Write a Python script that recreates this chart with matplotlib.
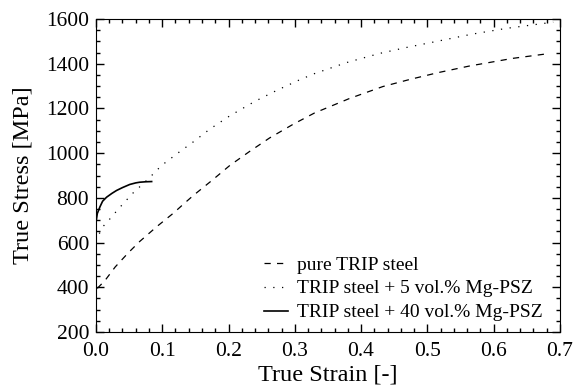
import matplotlib
matplotlib.use("Agg")
import matplotlib.pyplot as plt
from matplotlib.ticker import MultipleLocator

plt.rcParams['font.family'] = ['Liberation Serif', 'DejaVu Serif']

# pure TRIP steel
strain_pure = [0.002, 0.014, 0.029, 0.049, 0.066, 0.092, 0.117, 0.132, 0.147, 0.175,
               0.202, 0.232, 0.262, 0.298, 0.330, 0.383, 0.433, 0.474, 0.516, 0.564,
               0.629, 0.685]
stress_pure = [395, 432, 491, 555, 605, 672, 732, 772, 811, 878,
               945, 1008, 1068, 1130, 1180, 1245, 1298, 1330, 1360, 1390,
               1424, 1446]

# TRIP steel + 5 vol.% Mg-PSZ
strain_5 = [0.005, 0.011, 0.019, 0.034, 0.046, 0.056, 0.079, 0.099, 0.127, 0.144,
            0.172, 0.202, 0.240, 0.273, 0.308, 0.330, 0.378, 0.428, 0.469, 0.511,
            0.567, 0.619, 0.675, 0.690]
stress_5 = [640, 673, 699, 751, 790, 822, 885, 945, 1008, 1044,
            1108, 1167, 1232, 1281, 1329, 1356, 1405, 1446, 1473, 1498,
            1532, 1558, 1580, 1586]

# TRIP steel + 40 vol.% Mg-PSZ
strain_40 = [0.0, 0.002, 0.006, 0.010, 0.016, 0.024, 0.031, 0.040, 0.051, 0.060,
             0.066, 0.075, 0.084]
stress_40 = [690, 730, 760, 785, 803, 820, 833, 846, 860, 867,
             870, 872, 873]

labels = ['pure TRIP steel', 'TRIP steel + 5 vol.% Mg-PSZ', 'TRIP steel + 40 vol.% Mg-PSZ']

fig = plt.figure(figsize=(5.73, 3.88), dpi=100)
ax = fig.add_axes([0.1675, 0.1443, 0.8095, 0.8067])

ax.plot(strain_pure, stress_pure, color='black', lw=0.9, linestyle=(0, (5, 5)), label=labels[0])
ax.plot(strain_5, stress_5, color='black', lw=0.9, linestyle=(0, (1, 6)), label=labels[1])
ax.plot(strain_40, stress_40, color='black', lw=1.2, linestyle='-', label=labels[2])

ax.set_xlim(0, 0.7)
ax.set_ylim(200, 1600)
ax.xaxis.set_major_locator(MultipleLocator(0.1))
ax.xaxis.set_minor_locator(MultipleLocator(0.02))
ax.yaxis.set_major_locator(MultipleLocator(200))
ax.yaxis.set_minor_locator(MultipleLocator(50))
ax.set_xticklabels([f"{v:.1f}" for v in ax.get_xticks()])
ax.tick_params(which='both', direction='in', top=True, right=True, labelsize=15.5)
ax.tick_params(which='major', length=6, width=1)
ax.tick_params(which='minor', length=3, width=1)
ax.tick_params(axis='x', pad=7)
ax.tick_params(axis='y', pad=5)

ax.set_xlabel("True Strain [-]", fontsize=17.5, labelpad=3)
ax.set_ylabel("True Stress [MPa]", fontsize=17.5, labelpad=9)

ax.legend(loc='lower right', bbox_to_anchor=(0.987, 0.0), frameon=False, fontsize=14,
          handlelength=1.2, handletextpad=0.5, labelspacing=0.32, borderaxespad=0.15)

fig.savefig("out.png", dpi=100)
